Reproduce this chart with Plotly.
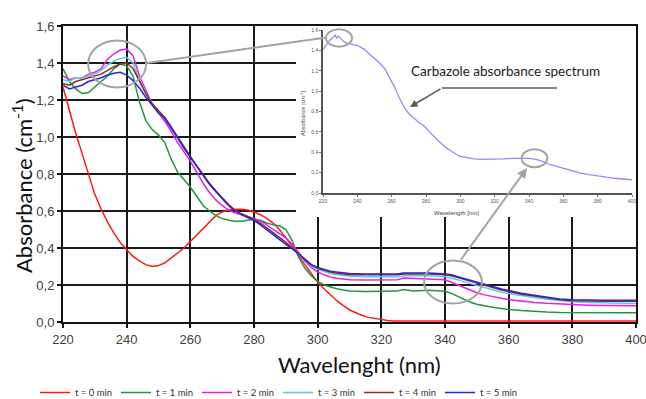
import plotly.graph_objects as go

# ---------------- data ----------------
wl0 = [220,222,224,226,228,230,232,234,236,238,240,242,244,246,248,250,252,254,256,258,
       260,262,264,266,268,270,272,274,276,278,280,282,284,286,288,290,292,294,296,298,
       300,302,304,306,308,310,312,314,316,318,320,322,324,330,340,350,360,370,380,390,400]
a_t0 = [1.27,1.14,1.02,0.91,0.80,0.69,0.61,0.54,0.48,0.43,0.39,0.355,0.33,0.31,0.30,0.305,0.32,0.345,0.37,0.40,
        0.435,0.47,0.51,0.545,0.575,0.595,0.605,0.61,0.61,0.605,0.595,0.58,0.56,0.535,0.50,0.455,0.41,0.36,0.31,0.26,
        0.215,0.18,0.145,0.115,0.09,0.065,0.05,0.035,0.025,0.018,0.013,0.008,0.005,0.005,0.005,0.005,0.005,0.005,0.005,0.005,0.005]

wl = [220,222,224,226,228,230,232,234,236,238,240,242,244,246,248,250,252,254,256,258,
      260,262,264,266,268,270,272,274,276,278,280,282,284,286,288,290,292,294,296,298,
      300,302,304,306,308,310,315,320,325,327,330,335,340,342,344,346,348,350,352,354,
      356,358,360,364,368,372,376,380,385,390,395,400]
a_t1 = [1.37,1.30,1.26,1.235,1.24,1.27,1.30,1.33,1.37,1.395,1.385,1.33,1.19,1.09,1.04,1.01,0.97,0.88,0.81,0.77,
        0.73,0.68,0.63,0.60,0.575,0.56,0.55,0.545,0.545,0.55,0.555,0.55,0.535,0.525,0.52,0.50,0.44,0.35,0.29,0.25,
        0.22,0.20,0.188,0.18,0.173,0.168,0.165,0.165,0.167,0.176,0.168,0.172,0.166,0.155,0.138,0.122,0.107,0.096,0.088,0.082,
        0.077,0.072,0.068,0.062,0.057,0.054,0.052,0.051,0.05,0.05,0.05,0.05]
a_t2 = [1.33,1.31,1.32,1.32,1.34,1.35,1.37,1.42,1.45,1.47,1.475,1.44,1.33,1.25,1.18,1.13,1.085,1.03,0.97,0.92,
        0.87,0.81,0.75,0.70,0.66,0.63,0.605,0.59,0.58,0.57,0.56,0.545,0.525,0.50,0.475,0.455,0.42,0.375,0.33,0.295,
        0.27,0.255,0.243,0.236,0.231,0.228,0.227,0.227,0.228,0.238,0.236,0.235,0.228,0.215,0.2,0.185,0.17,0.158,0.148,0.14,
        0.133,0.127,0.122,0.113,0.106,0.101,0.097,0.093,0.091,0.089,0.088,0.088]
a_t3 = [1.31,1.30,1.32,1.32,1.33,1.34,1.36,1.39,1.41,1.425,1.43,1.40,1.31,1.24,1.18,1.135,1.10,1.05,0.995,0.94,
        0.89,0.84,0.79,0.745,0.705,0.665,0.63,0.605,0.585,0.57,0.555,0.535,0.51,0.48,0.455,0.43,0.40,0.37,0.335,0.305,
        0.285,0.272,0.262,0.255,0.25,0.247,0.245,0.245,0.245,0.25,0.25,0.25,0.245,0.238,0.228,0.217,0.207,0.196,0.186,0.176,
        0.167,0.16,0.154,0.142,0.132,0.123,0.115,0.11,0.105,0.102,0.1,0.1]
a_t4 = [1.29,1.28,1.30,1.31,1.32,1.33,1.34,1.36,1.38,1.395,1.40,1.37,1.30,1.235,1.18,1.14,1.105,1.055,1.00,0.945,
        0.895,0.845,0.795,0.75,0.71,0.67,0.635,0.605,0.585,0.57,0.555,0.535,0.51,0.48,0.455,0.43,0.40,0.37,0.335,0.31,
        0.29,0.278,0.27,0.264,0.259,0.256,0.255,0.255,0.255,0.26,0.26,0.26,0.255,0.25,0.24,0.23,0.22,0.21,0.2,0.19,
        0.18,0.172,0.165,0.15,0.14,0.13,0.12,0.115,0.112,0.112,0.112,0.112]
a_t5 = [1.28,1.26,1.27,1.28,1.30,1.31,1.32,1.335,1.345,1.35,1.335,1.305,1.265,1.215,1.17,1.13,1.10,1.05,0.995,0.94,
        0.89,0.84,0.79,0.745,0.705,0.665,0.63,0.60,0.58,0.565,0.55,0.525,0.50,0.47,0.445,0.42,0.395,0.37,0.335,0.31,
        0.295,0.285,0.275,0.27,0.265,0.262,0.26,0.26,0.26,0.265,0.265,0.265,0.26,0.255,0.245,0.235,0.225,0.215,0.205,0.195,
        0.185,0.177,0.17,0.155,0.145,0.135,0.125,0.12,0.117,0.117,0.117,0.117]

series_names = ["t = 0 min", "t = 1 min", "t = 2 min", "t = 3 min", "t = 4 min", "t = 5 min"]
series_colors = ["#ff1a1a", "#22963a", "#e81ee8", "#55ccdd", "#8e2c2c", "#2626d8"]

# inset: carbazole reference spectrum
wl_carb = [220,222,224,226,227,228,229,230,232,234,236,238,240,244,248,252,256,258,260,262,
           264,266,268,270,272,274,276,278,280,282,284,286,288,290,292,294,296,298,300,304,
           308,312,316,320,325,330,335,340,344,348,352,356,360,365,370,375,380,385,390,395,400]
a_carb = [1.41,1.46,1.50,1.53,1.55,1.52,1.54,1.52,1.49,1.47,1.46,1.455,1.45,1.41,1.35,1.29,1.22,1.16,1.10,1.03,
          0.95,0.88,0.82,0.78,0.75,0.72,0.69,0.67,0.64,0.60,0.56,0.53,0.50,0.47,0.44,0.42,0.395,0.375,0.36,0.345,
          0.335,0.33,0.33,0.33,0.335,0.34,0.34,0.34,0.33,0.31,0.28,0.26,0.24,0.215,0.195,0.18,0.165,0.155,0.145,0.135,0.13]

x_ticks = [220, 240, 260, 280, 300, 320, 340, 360, 380, 400]
y_ticks = [0.0, 0.2, 0.4, 0.6, 0.8, 1.0, 1.2, 1.4, 1.6]

all_series = [(wl0, a_t0)] + [(wl, s) for s in (a_t1, a_t2, a_t3, a_t4, a_t5)]
for xs, ys in all_series:
    assert len(xs) == len(ys)
assert len(wl_carb) == len(a_carb)

# ---------------- figure ----------------
W, H = 646, 399
ML, MR, MT, MB = 63, 10, 26, 77
PW, PH = W - ML - MR, H - MT - MB

def px(xp):
    return (xp - ML) / PW

def py(yp):
    return (H - MB - yp) / PH

fig = go.Figure()

for (xs, ys), name, col in zip(all_series, series_names, series_colors):
    fig.add_trace(go.Scatter(x=xs, y=ys, mode="lines", name=name,
                             line=dict(color=col, width=1.5), xaxis="x", yaxis="y"))

# blank white panel that hides the main grid behind the inset
fig.add_trace(go.Scatter(x=[], y=[], xaxis="x2", yaxis="y2", showlegend=False, hoverinfo="skip"))

fig.add_trace(go.Scatter(x=wl_carb, y=a_carb, mode="lines", showlegend=False,
                         line=dict(color="#8a8cff", width=1.3), xaxis="x3", yaxis="y3"))

tick_font = dict(family="Liberation Sans, Arial, sans-serif", size=13, color="#404040")
title_font = dict(family="Lato, sans-serif", size=22, color="#111111")
small_font = dict(family="Liberation Sans, Arial, sans-serif", size=5, color="#555555")

fig.update_layout(
    width=W, height=H,
    margin=dict(l=ML, r=MR, t=MT, b=MB, autoexpand=False),
    paper_bgcolor="white", plot_bgcolor="white",
    separators=",.",
    showlegend=True,
    legend=dict(orientation="h", xref="container", yref="container",
                x=35 / W, y=6.5 / H, xanchor="left", yanchor="middle",
                font=dict(family="Lato, sans-serif", size=9.5, color="#333333"),
                entrywidth=36, entrywidthmode="pixels", tracegroupgap=0,
                bgcolor="rgba(0,0,0,0)"),
    xaxis=dict(domain=[0, 1], anchor="y", range=[220, 400], tickvals=x_ticks,
               showgrid=True, gridcolor="#1a1a1a", gridwidth=1.6,
               showline=True, linecolor="#111111", linewidth=2, mirror=True,
               ticks="outside", ticklen=4, tickcolor="#111111", tickwidth=1.6,
               zeroline=False, layer="below traces", tickfont=tick_font,
               ticklabeloverflow="allow"),
    yaxis=dict(domain=[0, 1], anchor="x", range=[0, 1.6], tickvals=y_ticks, tickformat=".1f",
               showgrid=True, gridcolor="#1a1a1a", gridwidth=1.6,
               showline=True, linecolor="#111111", linewidth=2, mirror=True,
               ticks="outside", ticklen=4, tickcolor="#111111", tickwidth=1.6,
               zeroline=False, layer="below traces", tickfont=tick_font,
               ticklabeloverflow="allow"),
    xaxis2=dict(domain=[px(296), 1], anchor="y2", range=[0, 1], side="top",
                showline=True, linecolor="#111111", linewidth=2,
                showgrid=False, zeroline=False, showticklabels=False, ticks=""),
    yaxis2=dict(domain=[py(217), 1], anchor="x2", range=[0, 1], side="right",
                showline=True, linecolor="#111111", linewidth=2,
                showgrid=False, zeroline=False, showticklabels=False, ticks=""),
    xaxis3=dict(domain=[px(323), px(632)], anchor="y3", range=[220, 400], tickvals=x_ticks,
                showline=True, linecolor="#555555", linewidth=1.5,
                showgrid=False, zeroline=False, ticks="outside", ticklen=2, tickcolor="#777777",
                tickfont=small_font),
    yaxis3=dict(domain=[py(193), py(30)], anchor="x3", range=[0, 1.6], tickvals=y_ticks, tickformat=".1f",
                showline=True, linecolor="#555555", linewidth=1.5,
                showgrid=False, zeroline=False, ticks="outside", ticklen=2, tickcolor="#777777",
                tickfont=small_font),
)

gray = "#a3a3a3"
shapes = [
    # ellipses on the main chart
    dict(type="circle", xref="x", yref="y", x0=227.9, x1=246.1, y0=1.268, y1=1.522,
         line=dict(color=gray, width=2), layer="above"),
    dict(type="circle", xref="x", yref="y", x0=333.4, x1=351.6, y0=0.10, y1=0.332,
         line=dict(color=gray, width=2), layer="above"),
    # ellipses on the inset
    dict(type="circle", xref="paper", yref="paper", x0=px(326), x1=px(352), y0=py(46.7), y1=py(29.3),
         line=dict(color=gray, width=2), layer="above"),
    dict(type="circle", xref="paper", yref="paper", x0=px(521.7), x1=px(547.3), y0=py(167.3), y1=py(149.3),
         line=dict(color=gray, width=2), layer="above"),
    # connector from main peak to inset peak
    dict(type="line", xref="paper", yref="paper", x0=px(147), y0=py(63), x1=px(326), y1=py(37.5),
         line=dict(color=gray, width=2), layer="above"),
    # horizontal part of the carbazole label pointer
    dict(type="line", xref="paper", yref="paper", x0=px(442), y0=py(88), x1=px(557), y1=py(88),
         line=dict(color="#5a5a5a", width=1.5), layer="above"),
]
fig.update_layout(shapes=shapes)

annotations = [
    # main axis titles
    dict(text="Wavelenght (nm)", xref="paper", yref="paper", x=px(359), y=py(364),
         showarrow=False, font=title_font, xanchor="center", yanchor="middle"),
    dict(text="Absorbance (cm<sup>-1</sup>)", xref="paper", yref="paper", x=px(22), y=py(186),
         showarrow=False, textangle=-90, font=title_font, xanchor="center", yanchor="middle"),
    # inset label and pointers
    dict(text="Carbazole absorbance spectrum", xref="paper", yref="paper", x=px(505), y=py(71),
         showarrow=False, font=dict(family="Lato, sans-serif", size=13.5, color="#222222"),
         xanchor="center", yanchor="middle"),
    dict(text="", xref="paper", yref="paper", x=px(410), y=py(107), ax=32, ay=-19,
         showarrow=True, arrowhead=2, arrowsize=1, arrowwidth=1.5, arrowcolor="#5a5a5a"),
    dict(text="", xref="paper", yref="paper", x=px(527), y=py(168), ax=-67, ay=93,
         showarrow=True, arrowhead=2, arrowsize=1, arrowwidth=2, arrowcolor=gray),
    # inset axis titles
    dict(text="Wavelength [nm]", xref="paper", yref="paper", x=px(456), y=py(213),
         showarrow=False, font=dict(family="Liberation Sans, Arial, sans-serif", size=6, color="#444444"),
         xanchor="center", yanchor="middle"),
    dict(text="Absorbance [cm<sup>-1</sup>]", xref="paper", yref="paper", x=px(303), y=py(114),
         showarrow=False, textangle=-90,
         font=dict(family="Liberation Sans, Arial, sans-serif", size=5.5, color="#444444"),
         xanchor="center", yanchor="middle"),
]
fig.update_layout(annotations=annotations)

fig.write_html("out.html")
